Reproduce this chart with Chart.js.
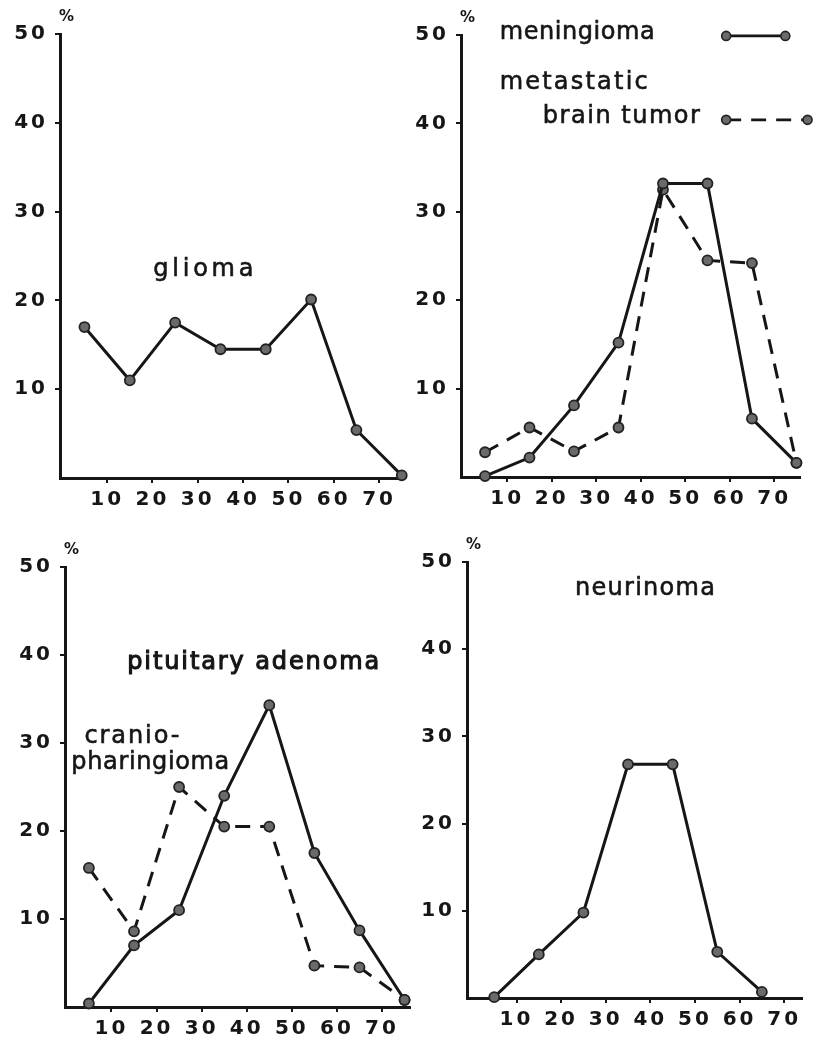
<!DOCTYPE html>
<html><head><meta charset="utf-8">
<script src="https://cdn.jsdelivr.net/npm/chart.js@4/dist/chart.umd.min.js"></script>
<style>
html,body{margin:0;padding:0;background:#fff;}
#wrap{position:relative;width:817px;height:1041px;}
canvas{position:absolute;left:0;top:0;}
</style></head><body>
<div id="wrap">
<canvas id="c1" width="817" height="1041"></canvas>
<canvas id="c2" width="817" height="1041"></canvas>
<canvas id="c3" width="817" height="1041"></canvas>
<canvas id="c4" width="817" height="1041"></canvas>
</div>
<script>
// ---- data (age decade midpoints, % of cases) ----
const ages = [5, 15, 25, 35, 45, 55, 65, 75];
const xTickLabels = [10, 20, 30, 40, 50, 60, 70];
const yTickLabels = [10, 20, 30, 40, 50];
const glioma      = [17.0, 11.0, 17.5, 14.5, 14.5, 20.1, 5.4, 0.3];
const meningioma  = [0.1, 2.2, 8.1, 15.2, 33.2, 33.2, 6.6, 1.6];
const metastatic  = [2.8, 5.6, 2.9, 5.6, 32.5, 24.5, 24.2, 1.6];
const pituitary   = [0.4, 7.0, 11.0, 24.0, 34.3, 17.5, 8.7, 0.8];
const cranio      = [15.8, 8.6, 25.0, 20.5, 20.5, 4.7, 4.5, 0.8];
const neurinoma   = [0.1, 5.0, 9.8, 26.8, 26.8, 5.3, 0.7, null];

const W = 817, H = 1041, YW = 50, XH = 40;
const INK = '#161616';
const DASH = [15, 10];
const TICK_SPACING = 3;
const TICK_FONT = {family: '"DejaVu Sans", sans-serif', size: 20, weight: 'bold'};
const LABEL_FONT = '400 24px "DejaVu Sans", sans-serif';

function series(vals, dashed) {
  return {
    data: ages.map((a, i) => ({x: a, y: vals[i]})).filter(p => p.y !== null),
    borderColor: INK, borderWidth: 3, borderDash: dashed ? DASH : [],
    pointRadius: 5, pointBackgroundColor: '#6a6a6a', pointBorderColor: '#222',
    pointBorderWidth: 1.8, tension: 0, clip: false, fill: false
  };
}

const spacingPlugin = {
  id: 'spacing',
  beforeDraw(chart) { chart.ctx.letterSpacing = TICK_SPACING + 'px'; },
  beforeDatasetsDraw(chart) { chart.ctx.letterSpacing = '0px'; }
};

const annotPlugin = {
  id: 'annot',
  afterDraw(chart) {
    const o = chart.options.plugins.annot || {};
    const ctx = chart.ctx, xs = chart.scales.x, ys = chart.scales.y, ca = chart.chartArea;
    ctx.save();
    ctx.fillStyle = INK; ctx.strokeStyle = INK;
    ctx.letterSpacing = '0px';
    ctx.font = '700 15px "DejaVu Sans", sans-serif';
    ctx.textAlign = 'left'; ctx.textBaseline = 'middle';
    ctx.fillText('%', ca.left - 1, ca.top - 17);
    (o.texts || []).forEach(t => {
      ctx.font = LABEL_FONT;
      ctx.letterSpacing = '0px';
      const m = ctx.measureText(t.text).width;
      const s = (t.w - m) / (t.text.length - 1);
      ctx.letterSpacing = s + 'px';
      ctx.textAlign = 'left'; ctx.textBaseline = 'middle';
      const px = xs.getPixelForValue(t.x), py = ys.getPixelForValue(t.y);
      ctx.fillText(t.text, px, py);
      ctx.lineWidth = t.bold ? 1.1 : 0.6;
      ctx.strokeText(t.text, px, py);
    });
    ctx.letterSpacing = '0px';
    (o.samples || []).forEach(s => {
      const x1 = xs.getPixelForValue(s.x1), x2 = xs.getPixelForValue(s.x2), y = ys.getPixelForValue(s.y);
      ctx.strokeStyle = INK; ctx.lineWidth = 2.6;
      ctx.setLineDash(s.dashed ? DASH : []);
      ctx.beginPath(); ctx.moveTo(x1, y); ctx.lineTo(x2, y); ctx.stroke();
      ctx.setLineDash([]);
      [x1, x2].forEach(px => {
        ctx.beginPath(); ctx.arc(px, y, 4.5, 0, Math.PI * 2);
        ctx.fillStyle = '#6a6a6a'; ctx.fill();
        ctx.lineWidth = 1.6; ctx.strokeStyle = '#222'; ctx.stroke();
      });
    });
    ctx.restore();
  }
};

function makePanel(id, area, xMin, xMax, datasets, annot) {
  new Chart(document.getElementById(id), {
    type: 'line',
    data: {datasets},
    plugins: [spacingPlugin, annotPlugin],
    options: {
      responsive: false, animation: false, devicePixelRatio: 1,
      layout: {padding: {left: area.left - YW, top: area.top, right: W - area.right, bottom: H - area.bottom - XH}},
      plugins: {legend: {display: false}, tooltip: {enabled: false}, annot},
      scales: {
        x: {
          type: 'linear', min: xMin, max: xMax,
          afterBuildTicks: s => { s.ticks = xTickLabels.map(v => ({value: v})); },
          afterFit: s => { s.height = XH; },
          border: {display: true, color: INK, width: 3},
          grid: {display: true, drawOnChartArea: false, drawTicks: true, tickLength: 5, color: INK, lineWidth: 2},
          ticks: {color: INK, font: TICK_FONT, padding: 5, maxRotation: 0, autoSkip: false}
        },
        y: {
          type: 'linear', min: 0, max: 50,
          afterBuildTicks: s => { s.ticks = yTickLabels.map(v => ({value: v})); },
          afterFit: s => { s.width = YW; },
          border: {display: true, color: INK, width: 3},
          grid: {display: true, drawOnChartArea: false, drawTicks: true, tickLength: 5, color: INK, lineWidth: 2},
          ticks: {color: INK, font: TICK_FONT, padding: 10 - TICK_SPACING}
        }
      }
    }
  });
}

makePanel('c1', {left: 60, top: 34, right: 404, bottom: 478}, -0.4, 75.5,
  [series(glioma, false)],
  {texts: [{text: 'glioma', x: 20.2, y: 23.4, w: 100}]});

makePanel('c2', {left: 461, top: 35, right: 800, bottom: 477}, -0.4, 75.8,
  [series(meningioma, false), series(metastatic, true)],
  {texts: [{text: 'meningioma', x: 8.3, y: 50.2, w: 155},
           {text: 'metastatic', x: 8.3, y: 44.6, w: 148},
           {text: 'brain tumor', x: 18.0, y: 40.8, w: 157}],
   samples: [{x1: 59.2, x2: 72.5, y: 49.9, dashed: false},
             {x1: 59.2, x2: 77.5, y: 40.4, dashed: true}]});

makePanel('c3', {left: 65, top: 567, right: 410, bottom: 1007}, -0.3, 76.2,
  [series(pituitary, false), series(cranio, true)],
  {texts: [{text: 'pituitary adenoma', x: 13.5, y: 39.1, w: 252, bold: true},
           {text: 'cranio-', x: 4.0, y: 30.7, w: 95},
           {text: 'pharingioma', x: 1.1, y: 27.8, w: 158}]});

makePanel('c4', {left: 467, top: 562, right: 802, bottom: 998}, -1.1, 74.0,
  [series(neurinoma, false)],
  {texts: [{text: 'neurinoma', x: 23.1, y: 46.9, w: 140}]});
</script>
</body></html>
